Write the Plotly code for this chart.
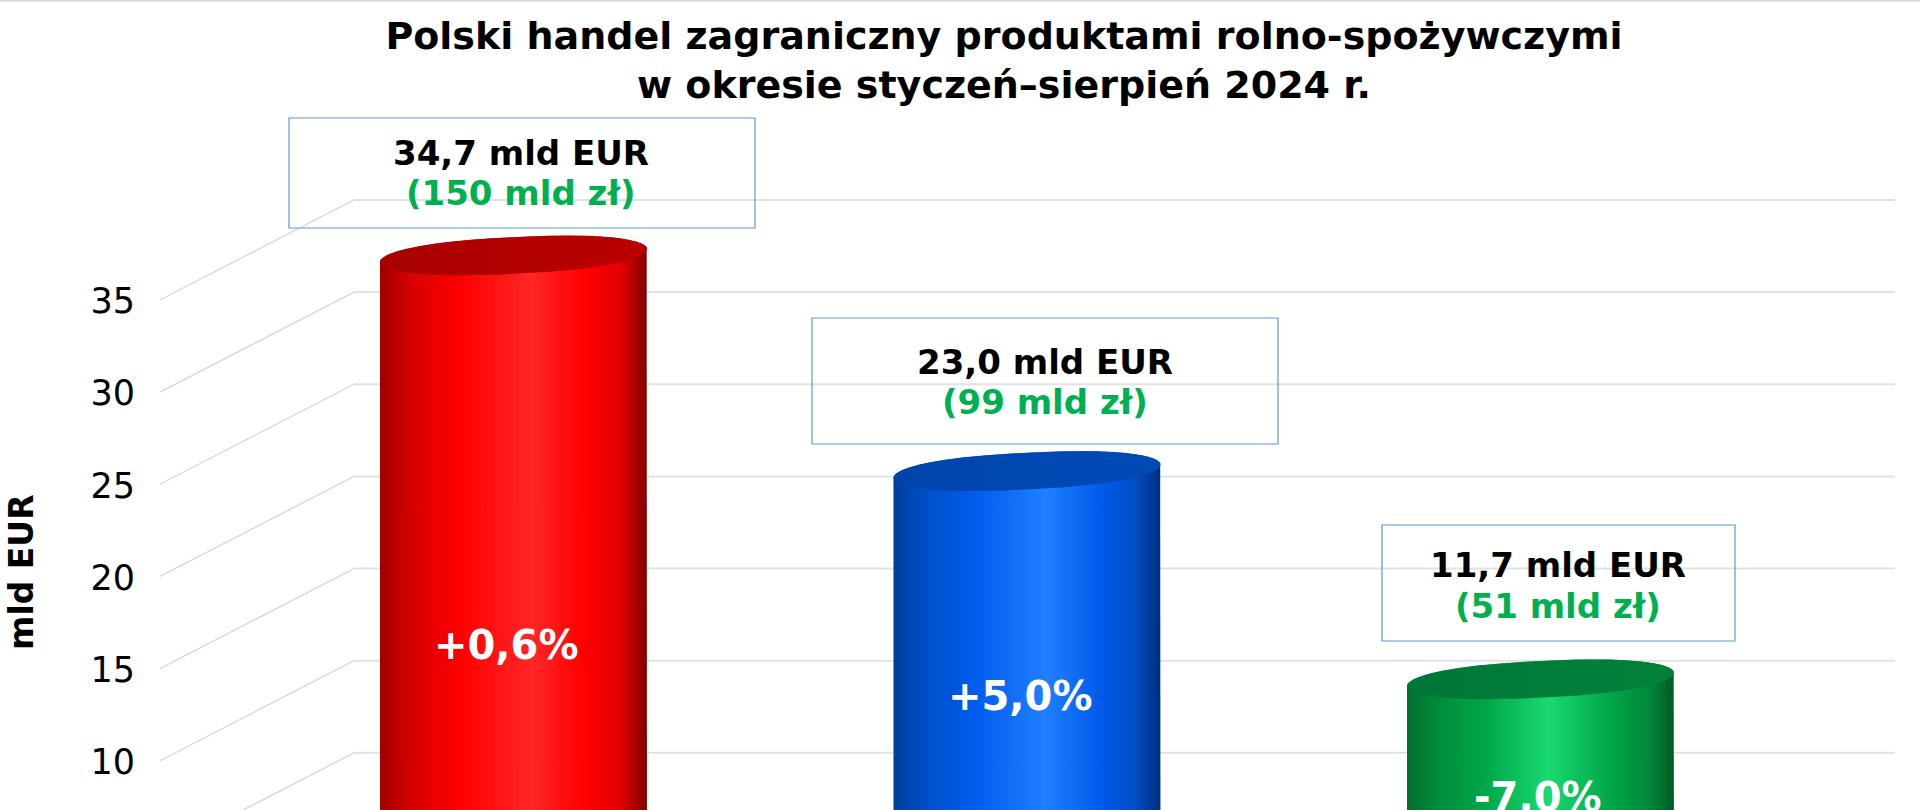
import numpy as np
import plotly.graph_objects as go

# --- data ---
series_names = ["Eksport", "Import", "Saldo"]
values_eur = [34.7, 23.0, 11.7]
changes = ["+0,6%", "+5,0%", "-7,0%"]
eur_labels = ["34,7 mld EUR", "23,0 mld EUR", "11,7 mld EUR"]
pln_labels = ["(150 mld zł)", "(99 mld zł)", "(51 mld zł)"]
tick_values = [10, 15, 20, 25, 30, 35]
back_grid_values = [5, 10, 15, 20, 25, 30, 35]
title_lines = ["Polski handel zagraniczny produktami rolno-spożywczymi",
               "w okresie styczeń–sierpień 2024 r."]
axis_title = "mld EUR"

# --- layout / projection constants (pixels of the 1920x810 page) ---
W, H = 1920, 810
PLOT_L = 160
PX_PER_UNIT_Y = 18.43
Y_ZERO_PX = 945.0
CX0, CX_STEP = 513.5, 513.5
DEPTH_PX = 100.0
CYL_W = 267.0


def xd(px):
    return (px - CX0) / CX_STEP


def yd(px):
    return (Y_ZERO_PX - px) / PX_PER_UNIT_Y


Y_RANGE = [yd(H), yd(0)]
X_RANGE = [xd(PLOT_L), xd(W)]
DEPTH_UNITS = DEPTH_PX / PX_PER_UNIT_Y
WALL_BACK_X = xd(354)
WALL_FRONT_X = xd(160)
GRID_END_X = xd(1895)

styles = [
    dict(body=[[0, "#a00000"], [0.12, "#d80000"], [0.30, "#ff0000"], [0.57, "#ff2626"], [0.76, "#ff0000"],
               [0.90, "#e40000"], [1, "#800000"]],
         top=[[0, "#a80000"], [1, "#bb0000"]]),
    dict(body=[[0, "#003f96"], [0.12, "#004fc8"], [0.30, "#005cec"], [0.57, "#1f7fff"], [0.78, "#005aea"],
               [0.90, "#004ec4"], [1, "#002f80"]],
         top=[[0, "#0044aa"], [1, "#004bb8"]]),
    dict(body=[[0, "#006e2d"], [0.12, "#008c3c"], [0.30, "#00a94a"], [0.53, "#1ad970"], [0.76, "#00a649"],
               [0.90, "#008a3a"], [1, "#005a25"]],
         top=[[0, "#00763a"], [1, "#018238"]]),
]

fig = go.Figure()

# grid: side wall + back wall, from the axis values
for v in back_grid_values:
    fig.add_trace(go.Scatter(x=[WALL_FRONT_X, WALL_BACK_X], y=[v, v + DEPTH_UNITS], mode="lines",
                             line=dict(color="#d9d9d9", width=1.4), hoverinfo="skip", showlegend=False))
    fig.add_trace(go.Scatter(x=[WALL_BACK_X, GRID_END_X], y=[v + DEPTH_UNITS, v + DEPTH_UNITS], mode="lines",
                             line=dict(color="#e2e2e2", width=2), hoverinfo="skip", showlegend=False))

# cylinders
half_w = CYL_W / 2 / CX_STEP
slope = 6.5 / PX_PER_UNIT_Y
minor = 18.4 / PX_PER_UNIT_Y
mid = DEPTH_UNITS / 2
ROUND = 0.82  # <1 makes the rim ends rounder than a plain ellipse


def rim(cx, cy, t):
    c = np.cos(t)
    u = np.sign(c) * np.abs(c) ** ROUND
    return cx + half_w * u, cy + slope * u + minor * np.sin(t)


t = np.linspace(0, 2 * np.pi, 161)
for i, (name, v) in enumerate(zip(series_names, values_eur)):
    cy_top = v + mid
    lx, ly = rim(i, mid, t[:81] + np.pi)  # lower arc of the base
    ux, uy = rim(i, cy_top, t[:81])       # upper arc of the top
    fig.add_trace(go.Scatter(x=np.concatenate([lx, ux]), y=np.concatenate([ly, uy]),
                             mode="lines", fill="toself", line=dict(width=0),
                             fillgradient=dict(type="horizontal", colorscale=styles[i]["body"]),
                             name=name, showlegend=False, hoverinfo="skip"))
    ex, ey = rim(i, cy_top, t)
    fig.add_trace(go.Scatter(x=ex, y=ey, mode="lines", fill="toself", line=dict(width=0),
                             fillgradient=dict(type="horizontal", colorscale=styles[i]["top"]),
                             name=name, showlegend=False, hoverinfo="skip"))

FONT = "DejaVu Sans"
annotations = []


def label(px, py, text, size, color):
    annotations.append(dict(x=xd(px), y=yd(py), xref="x", yref="y", text=text, showarrow=False,
                            xanchor="center", yanchor="middle",
                            font=dict(family=FONT, size=size, color=color, weight="bold")))


box_px = [(289, 755, 118, 228), (812, 1278, 318, 444), (1382, 1735, 525, 641)]
eur_px = [(521, 153), (1045, 362), (1558, 565)]
pln_px = [(521, 193), (1045, 402), (1558, 606)]
pct_px = [(506, 645), (1020, 696), (1538, 797)]
shapes = []
for i in range(3):
    x0, x1, y0, y1 = box_px[i]
    shapes.append(dict(type="rect", xref="x", yref="y", x0=xd(x0), x1=xd(x1), y0=yd(y0), y1=yd(y1),
                       line=dict(color="#5b9bd5", width=1.2), fillcolor="rgba(0,0,0,0)", layer="above"))
    label(*eur_px[i], eur_labels[i], 34, "#000000")
    label(*pln_px[i], pln_labels[i], 34, "#00b050")
    label(*pct_px[i], changes[i], 40, "#ffffff")

annotations.append(dict(x=(21 - PLOT_L) / (W - PLOT_L), y=yd(572), xref="paper", yref="y", text=axis_title,
                        showarrow=False, xanchor="center", yanchor="middle", textangle=-90,
                        font=dict(family=FONT, size=33, color="#000000", weight="bold")))

# thin grey rule along the top edge of the picture
shapes.append(dict(type="line", xref="paper", yref="paper", x0=-PLOT_L / (W - PLOT_L), x1=1, y0=1, y1=1,
                   line=dict(color="#d9d9d9", width=3)))

fig.update_layout(
    width=W, height=H, autosize=False,
    margin=dict(l=PLOT_L, r=0, t=0, b=0),
    paper_bgcolor="#ffffff", plot_bgcolor="#ffffff",
    showlegend=False,
    title=dict(text="<br>".join(title_lines), x=1004 / W, xref="container",
               xanchor="center", y=1 - 49 / H, yanchor="middle",
               font=dict(family=FONT, size=38, color="#000000", weight="bold")),
    xaxis=dict(range=X_RANGE, visible=False, fixedrange=True),
    yaxis=dict(range=Y_RANGE, tickvals=tick_values, ticktext=[str(v) for v in tick_values],
               showgrid=False, zeroline=False, showline=False, ticks="outside", ticklen=17,
               tickcolor="rgba(0,0,0,0)", fixedrange=True, ticklabelshift=1,
               tickfont=dict(family=FONT, size=35, color="#000000")),
    shapes=shapes, annotations=annotations,
)
fig.write_html("out.html", config=dict(displayModeBar=False),
               post_script="document.body.style.margin='0';document.body.style.overflow='hidden';")
